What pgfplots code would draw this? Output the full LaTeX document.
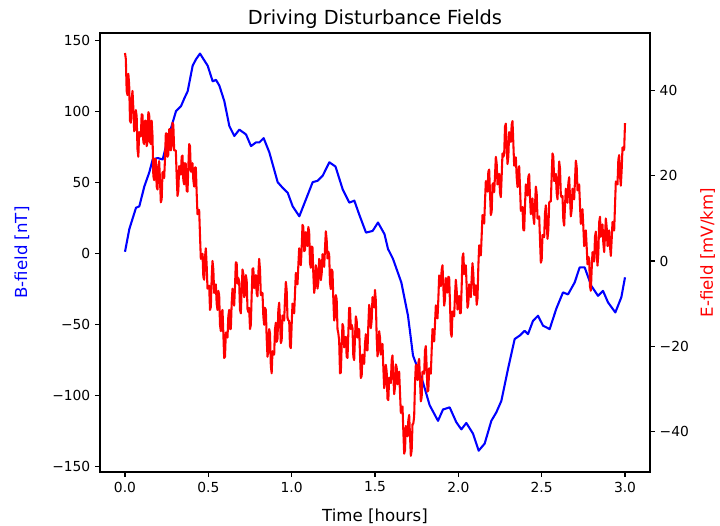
\documentclass[border=0pt]{standalone}
\usepackage{fontspec}
\setmainfont{DejaVu Sans}
\usepackage{pgfplots}
\usepackage{pgfplotstable}
\pgfplotsset{compat=1.18}

% E-field series [mV/km] against time [hours]
\pgfplotstableread{
t E
0.000 48.9
0.005 47.5
0.010 40
0.015 39
0.020 44
0.025 41.5
0.030 33
0.035 32.5
0.040 38
0.045 40
0.050 36
0.055 30.5
0.060 31
0.065 35.5
0.070 34
0.075 26.3
0.080 24.5
0.085 30.3
0.090 30
0.095 29.3
0.100 34.5
0.105 34.3
0.110 28
0.115 27.5
0.120 33
0.125 33
0.130 27
0.135 28
0.140 35
0.145 34.5
0.150 28
0.155 27.5
0.160 33
0.165 29.5
0.170 20
0.175 19
0.180 24
0.185 23.8
0.190 17.5
0.195 16.8
0.200 22
0.205 23.5
0.210 19
0.215 13.8
0.220 14.5
0.225 20.8
0.230 21
0.235 19.5
0.240 24
0.245 30
0.250 30
0.255 24.5
0.260 25
0.265 31
0.270 31
0.275 26
0.280 27
0.285 32.5
0.290 32
0.295 26
0.300 26
0.305 26
0.310 20
0.315 15.3
0.320 16.5
0.325 22.3
0.330 22
0.335 20.3
0.340 24.5
0.345 24.8
0.350 19
0.355 18
0.360 23
0.365 22.8
0.370 16.5
0.375 16.3
0.380 22
0.385 27.5
0.390 27
0.395 21
0.400 21
0.405 23
0.410 19
0.415 17.5
0.420 22
0.425 22
0.430 16
0.435 11
0.440 12
0.445 12
0.450 6
0.455 0.5
0.460 1
0.465 1.7
0.470 -3.7
0.475 -4.4
0.480 1
0.485 3
0.490 -1
0.495 -6.5
0.500 -6
0.505 -5.8
0.510 -11.5
0.515 -10.8
0.520 -4
0.525 0
0.530 -2
0.535 -7.5
0.540 -7
0.545 -5.5
0.550 -10
0.555 -11.5
0.560 -7
0.565 -8
0.570 -15
0.575 -16.5
0.580 -12
0.585 -11.5
0.590 -17
0.595 -22.8
0.600 -22.5
0.605 -16.8
0.610 -17
0.615 -18
0.620 -13
0.625 -11.5
0.630 -16
0.635 -16
0.640 -10
0.645 -6.5
0.650 -9
0.655 -10.5
0.660 -6
0.665 -0.3
0.670 -0.5
0.675 -5.3
0.680 -4
0.685 -4.8
0.690 -11.5
0.695 -12.3
0.700 -7
0.705 -2
0.710 -3
0.715 -8.5
0.720 -8
0.725 -3.3
0.730 -4.5
0.735 -11.3
0.740 -12
0.745 -11
0.750 -16
0.755 -15
0.760 -8
0.765 -1.9
0.770 -1.7
0.775 -6.4
0.780 -5
0.785 -3.3
0.790 -7.6
0.795 -8.3
0.800 -3
0.805 0.5
0.810 -2
0.815 -8
0.820 -8
0.825 -7.5
0.830 -13
0.835 -15
0.840 -11
0.845 -11.5
0.850 -18
0.855 -22.5
0.860 -21
0.865 -16
0.870 -17
0.875 -24.7
0.880 -26.4
0.885 -21.2
0.890 -22
0.895 -22
0.900 -16
0.905 -14.5
0.910 -19
0.915 -18.3
0.920 -11.5
0.925 -9.8
0.930 -14
0.935 -19.3
0.940 -18.6
0.945 -12.8
0.950 -13
0.955 -14
0.960 -9
0.965 -4.9
0.970 -6.8
0.975 -13.4
0.980 -14
0.985 -14
0.990 -20
0.995 -20.5
1.000 -15
1.005 -10
1.010 -11
1.015 -12.3
1.020 -7.6
1.025 -2.8
1.030 -4
1.035 -5.5
1.040 -1
1.045 3
1.050 1
1.055 -1
1.060 3
1.065 8.5
1.070 8
1.075 2.3
1.080 2.6
1.085 6.8
1.090 5
1.095 3.5
1.100 8
1.105 6.8
1.110 -0.5
1.115 -1.6
1.120 3.4
1.125 3.2
1.130 -3
1.135 -7.5
1.140 -6
1.145 -1
1.150 -2
1.155 -6.5
1.160 -5
1.165 0.5
1.170 0
1.175 -4.5
1.180 -3
1.185 1.6
1.190 0.2
1.195 -1.4
1.200 3
1.205 7
1.210 5
1.215 0.6
1.220 2.2
1.225 1.5
1.230 -5.2
1.235 -6.6
1.240 -2
1.245 -2.5
1.250 -9
1.255 -14
1.260 -13
1.265 -8
1.270 -9
1.275 -16
1.280 -17
1.285 -18.7
1.290 -26.4
1.295 -26.2
1.300 -20
1.305 -14.8
1.310 -15.5
1.315 -20.3
1.320 -19
1.325 -17.8
1.330 -22.5
1.335 -22.8
1.340 -17
1.345 -11
1.350 -11
1.355 -16
1.360 -15
1.365 -15.8
1.370 -22.5
1.375 -23.3
1.380 -18
1.385 -13
1.390 -14
1.395 -18
1.400 -16
1.405 -16
1.410 -22
1.415 -27.5
1.420 -27
1.425 -22
1.430 -23
1.435 -24.2
1.440 -19.4
1.445 -17.2
1.450 -21
1.455 -21
1.460 -15
1.465 -10.3
1.470 -11.5
1.475 -15.8
1.480 -14
1.485 -8.5
1.490 -9
1.495 -10.9
1.500 -6.8
1.505 -9.3
1.510 -17.8
1.515 -22.4
1.520 -21
1.525 -16.5
1.530 -18
1.535 -22
1.540 -20
1.545 -19.5
1.550 -25
1.555 -29.9
1.560 -28.8
1.565 -24.4
1.570 -26
1.575 -32.4
1.580 -32.7
1.585 -27.4
1.590 -28
1.595 -28.7
1.600 -23.3
1.605 -22.2
1.610 -27
1.615 -31.3
1.620 -29.6
1.625 -24.3
1.630 -25
1.635 -29
1.640 -27
1.645 -26
1.650 -31
1.655 -35.7
1.660 -34.3
1.665 -34.2
1.670 -40
1.675 -45.3
1.680 -44.5
1.685 -38.8
1.690 -39
1.695 -41.2
1.700 -37.4
1.705 -36.2
1.710 -41
1.715 -45.8
1.720 -44.5
1.725 -38.4
1.730 -38.2
1.735 -36.5
1.740 -28.8
1.745 -24.4
1.750 -26
1.755 -28
1.760 -24
1.765 -23
1.770 -28
1.775 -33
1.780 -32
1.785 -26
1.790 -26
1.795 -26.5
1.800 -21
1.805 -20
1.810 -25
1.815 -30.7
1.820 -30.4
1.825 -25.2
1.830 -26
1.835 -26.5
1.840 -21
1.845 -16
1.850 -17
1.855 -18.9
1.860 -14.7
1.865 -10.4
1.870 -12
1.875 -13.5
1.880 -9
1.885 -3.4
1.890 -3.7
1.895 -5.9
1.900 -2
1.905 -1
1.910 -6
1.915 -10.5
1.920 -9
1.925 -4
1.930 -5
1.935 -7.4
1.940 -3.7
1.945 -3.9
1.950 -10
1.955 -16.9
1.960 -17.8
1.965 -11.9
1.970 -12
1.975 -13
1.980 -8
1.985 -4.4
1.990 -6.8
1.995 -11.4
2.000 -10
2.005 -8.2
2.010 -12.3
2.015 -12.2
2.020 -6
2.025 0.9
2.030 1.8
2.035 -3.1
2.040 -2
2.045 -1
2.050 -6
2.055 -11
2.060 -10
2.065 -5.5
2.070 -7
2.075 -8.5
2.080 -4
2.085 -0.5
2.090 -3
2.095 -8
2.100 -7
2.105 -5.7
2.110 -10.3
2.115 -8.8
2.120 -1.3
2.125 3.7
2.130 2.6
2.135 1.3
2.140 6
2.145 10.8
2.150 9.6
2.155 8.8
2.160 14
2.165 18.8
2.170 17.5
2.175 16.3
2.180 21
2.185 21.5
2.190 16
2.195 10.8
2.200 11.6
2.205 18
2.210 18.3
2.215 16.2
2.220 20
2.225 24.5
2.230 23
2.235 18
2.240 19
2.245 20.5
2.250 16
2.255 15
2.260 20
2.265 25.3
2.270 24.5
2.275 25
2.280 31.6
2.285 32.3
2.290 27
2.295 22.8
2.300 24.5
2.305 30.3
2.310 30
2.315 28
2.320 32
2.325 32.9
2.330 27.7
2.335 22.4
2.340 23
2.345 24.4
2.350 19.8
2.355 17.4
2.360 21
2.365 22.3
2.370 17.5
2.375 11.8
2.380 12
2.385 12.7
2.390 7.3
2.395 7.2
2.400 13
2.405 18
2.410 17
2.415 15.4
2.420 19.8
2.425 20.4
2.430 15
2.435 11
2.440 13
2.445 14.7
2.450 10.4
2.455 8.7
2.460 13
2.465 17.5
2.470 16
2.475 10
2.480 10
2.485 10.5
2.490 5
2.495 -0.4
2.500 0.2
2.505 6.1
2.510 6
2.515 5.6
2.520 11.2
2.525 13.1
2.530 9
2.535 5.2
2.540 7.3
2.545 13.7
2.550 14
2.555 14
2.560 20
2.565 25.3
2.570 24.5
2.575 18.8
2.580 19
2.585 20.5
2.590 16
2.595 14.5
2.600 19
2.605 23.4
2.610 21.8
2.615 15.4
2.620 15
2.625 15.3
2.630 9.6
2.635 8.3
2.640 13
2.645 17
2.650 15
2.655 13.7
2.660 18.3
2.665 19.7
2.670 15
2.675 10.5
2.680 12
2.685 17
2.690 16
2.695 14.5
2.700 19
2.705 23.6
2.710 22.2
2.715 16.6
2.720 17
2.725 18
2.730 13
2.735 8.7
2.740 10.4
2.745 12.2
2.750 8
2.755 3.5
2.760 5
2.765 7.2
2.770 3.4
2.775 -0.8
2.780 1
2.785 0.5
2.790 -6
2.795 -7
2.800 -2
2.805 2.1
2.810 0.2
2.815 -0.1
2.820 5.7
2.825 6.9
2.830 2
2.835 -1.1
2.840 1.8
2.845 9.1
2.850 10.4
2.855 5.7
2.860 7
2.865 8.6
2.870 4.2
2.875 2.1
2.880 6
2.885 10
2.890 8
2.895 3.5
2.900 5
2.905 7.2
2.910 3.4
2.915 1.2
2.920 5
2.925 9.2
2.930 7.3
2.935 7.2
2.940 13
2.945 18.7
2.950 18.3
2.955 18
2.960 23.8
2.965 24.9
2.970 20
2.975 17.7
2.980 21.4
2.985 26.7
2.990 26
2.995 26.2
3.000 32.4
}\efield

\pgfplotsset{
  commonaxis/.style={
    at={(1.0in,0.54in)}, anchor=south west,
    scale only axis, width=5.5in, height=4.39in,
    xmin=-0.15, xmax=3.15,
    axis line style={line width=0.8pt},
    tick align=outside,
    major tick length=3.5pt,
    every tick/.style={black, line width=0.8pt},
    tick label style={font=\fontsize{10}{12}\selectfont},
    label style={font=\fontsize{12}{14}\selectfont},
  }
}

\begin{document}
\begin{tikzpicture}
\path[use as bounding box] (0,0) rectangle (7.2in,5.26in);

\begin{axis}[
  commonaxis,
  xtick pos=bottom, ytick pos=left,
  xtick={0,0.5,1,1.5,2,2.5,3},
  xticklabels={0.0,0.5,1.0,1.5,2.0,2.5,3.0},
  ymin=-154, ymax=155,
  ytick={-150,-100,-50,0,50,100,150},
  yticklabels={−150,−100,−50,0,50,100,150},
  xlabel={Time [hours]},
  xlabel style={at={(axis description cs:0.5,-0.113)}, anchor=base},
  ylabel={B-field [nT]},
  ylabel style={at={(axis description cs:-0.142,0.5)}, rotate=0, anchor=center, text=blue},
  title={Driving Disturbance Fields},
  title style={at={(axis description cs:0.5,1.0)}, anchor=base, font=\fontsize{14}{17}\selectfont},
]
\addplot[blue, line width=1.5pt, line join=round] coordinates {
(0,1)(0.026,17)(0.066,32)(0.086,33)(0.116,47)(0.146,57)(0.166,66)(0.196,67)
(0.226,66)(0.256,80)(0.286,92)(0.306,100)(0.336,103.5)(0.356,109)(0.376,114)
(0.406,132)(0.426,136.5)(0.45,140.5)(0.466,137.5)(0.496,132)(0.526,121)
(0.546,122)(0.566,118)(0.596,107)(0.626,89.5)(0.656,82.5)(0.686,87)(0.726,83.6)
(0.756,75.4)(0.786,78)(0.806,78)(0.832,81)(0.866,71)(0.916,50)(0.946,46)
(0.976,42.6)(1.006,33)(1.046,26)(1.086,38)(1.126,50)(1.156,51)(1.186,54.5)
(1.226,64)(1.263,61)(1.306,45)(1.346,35.6)(1.376,37)(1.406,27)(1.446,14.5)
(1.486,15.7)(1.518,21.6)(1.557,13.4)(1.578,3)(1.608,-4)(1.658,-20.6)(1.698,-44)
(1.728,-72)(1.758,-81.5)(1.788,-91)(1.828,-107)(1.878,-118)(1.908,-110)
(1.948,-108.5)(1.988,-119)(2.018,-124)(2.048,-119.5)(2.088,-127)(2.122,-139)
(2.158,-134)(2.198,-118)(2.228,-112)(2.258,-104)(2.298,-81.5)(2.338,-60.4)
(2.368,-58)(2.398,-54.6)(2.418,-57)(2.448,-47.6)(2.478,-44)(2.508,-51)
(2.548,-53.4)(2.588,-39)(2.628,-27.6)(2.658,-29)(2.698,-20.6)(2.728,-10)
(2.758,-10)(2.798,-23)(2.838,-30)(2.868,-26.5)(2.898,-34.6)(2.942,-41.7)
(2.978,-31)(3.0,-17)
};
\end{axis}

\begin{axis}[
  commonaxis,
  xtick=\empty,
  ytick pos=right, yticklabel pos=right,
  ymin=-49.6, ymax=53.6,
  ytick={-40,-20,0,20,40},
  yticklabels={−40,−20,0,20,40},
  ylabel={E-field [mV/km]},
  ylabel style={at={(axis description cs:1.105,0.5)}, rotate=0, anchor=center, text=red},
]
\addplot[red, line width=1.5pt, line join=round] table[x=t, y=E] {\efield};
\end{axis}
\end{tikzpicture}
\end{document}
